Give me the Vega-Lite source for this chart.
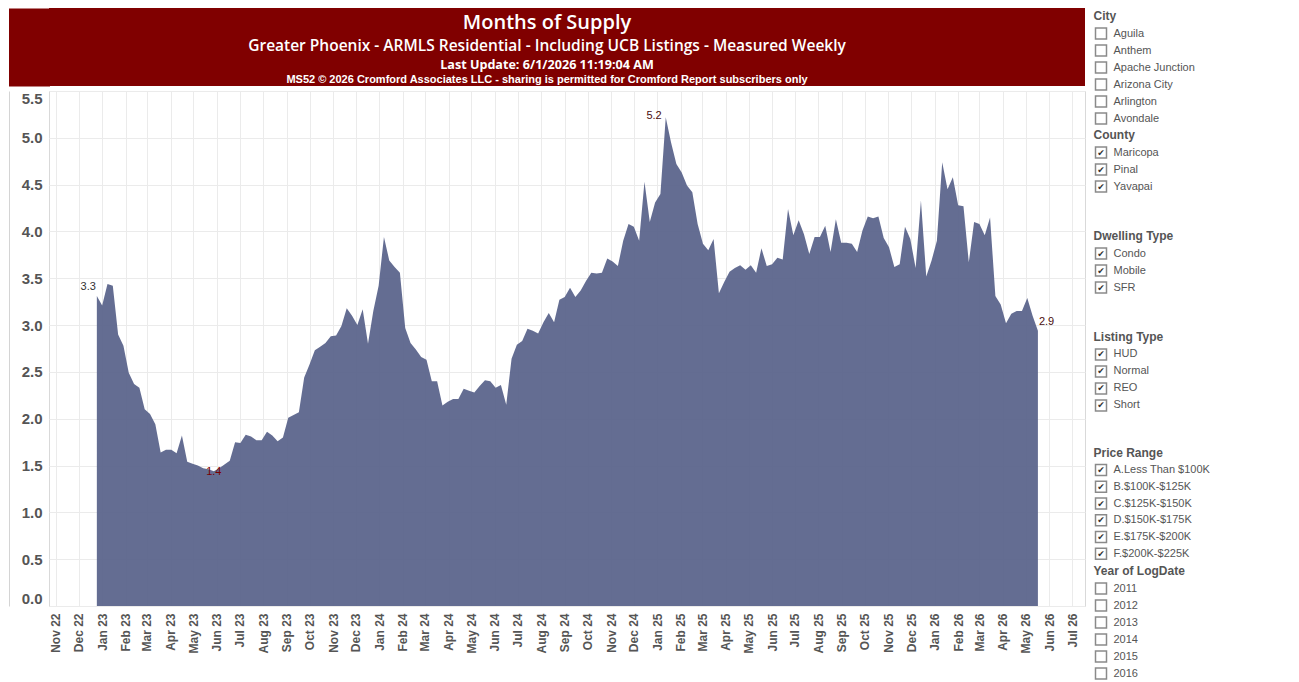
{
  "$schema": "https://vega.github.io/schema/vega-lite/v6.json",
  "padding": {"left": 8, "top": 8, "right": 0, "bottom": 0},
  "background": "white",
  "config": {"view": {"stroke": null}, "font": "Liberation Sans"},
  "datasets": {
    "banner": [
      {"line": 1, "text": "Months of Supply"},
      {"line": 2, "text": "Greater Phoenix - ARMLS Residential - Including UCB Listings - Measured Weekly"},
      {"line": 3, "text": "Last Update: 6/1/2026 11:19:04 AM"},
      {"line": 4, "text": "MS52 © 2026 Cromford Associates LLC - sharing is permitted for Cromford Report subscribers only"}
    ],
    "filters": [
      {"group": "City", "item": "City", "header": true, "checked": false},
      {"group": "City", "item": "Aguila", "header": false, "checked": false},
      {"group": "City", "item": "Anthem", "header": false, "checked": false},
      {"group": "City", "item": "Apache Junction", "header": false, "checked": false},
      {"group": "City", "item": "Arizona City", "header": false, "checked": false},
      {"group": "City", "item": "Arlington", "header": false, "checked": false},
      {"group": "City", "item": "Avondale", "header": false, "checked": false},
      {"group": "County", "item": "County", "header": true, "checked": false},
      {"group": "County", "item": "Maricopa", "header": false, "checked": true},
      {"group": "County", "item": "Pinal", "header": false, "checked": true},
      {"group": "County", "item": "Yavapai", "header": false, "checked": true},
      {"group": "Dwelling Type", "item": "Dwelling Type", "header": true, "checked": false},
      {"group": "Dwelling Type", "item": "Condo", "header": false, "checked": true},
      {"group": "Dwelling Type", "item": "Mobile", "header": false, "checked": true},
      {"group": "Dwelling Type", "item": "SFR", "header": false, "checked": true},
      {"group": "Listing Type", "item": "Listing Type", "header": true, "checked": false},
      {"group": "Listing Type", "item": "HUD", "header": false, "checked": true},
      {"group": "Listing Type", "item": "Normal", "header": false, "checked": true},
      {"group": "Listing Type", "item": "REO", "header": false, "checked": true},
      {"group": "Listing Type", "item": "Short", "header": false, "checked": true},
      {"group": "Price Range", "item": "Price Range", "header": true, "checked": false},
      {"group": "Price Range", "item": "A.Less Than $100K", "header": false, "checked": true},
      {"group": "Price Range", "item": "B.$100K-$125K", "header": false, "checked": true},
      {"group": "Price Range", "item": "C.$125K-$150K", "header": false, "checked": true},
      {"group": "Price Range", "item": "D.$150K-$175K", "header": false, "checked": true},
      {"group": "Price Range", "item": "E.$175K-$200K", "header": false, "checked": true},
      {"group": "Price Range", "item": "F.$200K-$225K", "header": false, "checked": true},
      {"group": "Year of LogDate", "item": "Year of LogDate", "header": true, "checked": false},
      {"group": "Year of LogDate", "item": "2011", "header": false, "checked": false},
      {"group": "Year of LogDate", "item": "2012", "header": false, "checked": false},
      {"group": "Year of LogDate", "item": "2013", "header": false, "checked": false},
      {"group": "Year of LogDate", "item": "2014", "header": false, "checked": false},
      {"group": "Year of LogDate", "item": "2015", "header": false, "checked": false},
      {"group": "Year of LogDate", "item": "2016", "header": false, "checked": false}
    ],
    "mos": [
      {"date": "2022-12-25", "mos": 3.31},
      {"date": "2023-01-01", "mos": 3.21},
      {"date": "2023-01-08", "mos": 3.44},
      {"date": "2023-01-15", "mos": 3.42},
      {"date": "2023-01-22", "mos": 2.90},
      {"date": "2023-01-29", "mos": 2.78},
      {"date": "2023-02-05", "mos": 2.49},
      {"date": "2023-02-12", "mos": 2.37},
      {"date": "2023-02-19", "mos": 2.33},
      {"date": "2023-02-26", "mos": 2.10},
      {"date": "2023-03-05", "mos": 2.05},
      {"date": "2023-03-12", "mos": 1.94},
      {"date": "2023-03-19", "mos": 1.64},
      {"date": "2023-03-26", "mos": 1.67},
      {"date": "2023-04-02", "mos": 1.67},
      {"date": "2023-04-09", "mos": 1.63},
      {"date": "2023-04-16", "mos": 1.82},
      {"date": "2023-04-23", "mos": 1.54},
      {"date": "2023-04-30", "mos": 1.52},
      {"date": "2023-05-07", "mos": 1.50},
      {"date": "2023-05-14", "mos": 1.47},
      {"date": "2023-05-21", "mos": 1.46},
      {"date": "2023-05-28", "mos": 1.44},
      {"date": "2023-06-04", "mos": 1.47},
      {"date": "2023-06-11", "mos": 1.51},
      {"date": "2023-06-18", "mos": 1.55},
      {"date": "2023-06-25", "mos": 1.75},
      {"date": "2023-07-02", "mos": 1.74},
      {"date": "2023-07-09", "mos": 1.83},
      {"date": "2023-07-16", "mos": 1.81},
      {"date": "2023-07-23", "mos": 1.77},
      {"date": "2023-07-30", "mos": 1.77},
      {"date": "2023-08-06", "mos": 1.86},
      {"date": "2023-08-13", "mos": 1.82},
      {"date": "2023-08-20", "mos": 1.76},
      {"date": "2023-08-27", "mos": 1.80},
      {"date": "2023-09-03", "mos": 2.01},
      {"date": "2023-09-10", "mos": 2.04},
      {"date": "2023-09-17", "mos": 2.07},
      {"date": "2023-09-24", "mos": 2.44},
      {"date": "2023-10-01", "mos": 2.58},
      {"date": "2023-10-08", "mos": 2.73},
      {"date": "2023-10-15", "mos": 2.77},
      {"date": "2023-10-22", "mos": 2.81},
      {"date": "2023-10-29", "mos": 2.88},
      {"date": "2023-11-05", "mos": 2.89},
      {"date": "2023-11-12", "mos": 2.99},
      {"date": "2023-11-19", "mos": 3.18},
      {"date": "2023-11-26", "mos": 3.10},
      {"date": "2023-12-03", "mos": 3.00},
      {"date": "2023-12-10", "mos": 3.17},
      {"date": "2023-12-17", "mos": 2.80},
      {"date": "2023-12-24", "mos": 3.15},
      {"date": "2023-12-31", "mos": 3.42},
      {"date": "2024-01-07", "mos": 3.94},
      {"date": "2024-01-14", "mos": 3.69},
      {"date": "2024-01-21", "mos": 3.62},
      {"date": "2024-01-28", "mos": 3.56},
      {"date": "2024-02-04", "mos": 2.97},
      {"date": "2024-02-11", "mos": 2.81},
      {"date": "2024-02-18", "mos": 2.74},
      {"date": "2024-02-25", "mos": 2.66},
      {"date": "2024-03-03", "mos": 2.63},
      {"date": "2024-03-10", "mos": 2.40},
      {"date": "2024-03-17", "mos": 2.40},
      {"date": "2024-03-24", "mos": 2.14},
      {"date": "2024-03-31", "mos": 2.18},
      {"date": "2024-04-07", "mos": 2.21},
      {"date": "2024-04-14", "mos": 2.21},
      {"date": "2024-04-21", "mos": 2.32},
      {"date": "2024-04-28", "mos": 2.30},
      {"date": "2024-05-05", "mos": 2.28},
      {"date": "2024-05-12", "mos": 2.35},
      {"date": "2024-05-19", "mos": 2.41},
      {"date": "2024-05-26", "mos": 2.40},
      {"date": "2024-06-02", "mos": 2.33},
      {"date": "2024-06-09", "mos": 2.36},
      {"date": "2024-06-16", "mos": 2.15},
      {"date": "2024-06-23", "mos": 2.64},
      {"date": "2024-06-30", "mos": 2.79},
      {"date": "2024-07-07", "mos": 2.83},
      {"date": "2024-07-14", "mos": 2.96},
      {"date": "2024-07-21", "mos": 2.94},
      {"date": "2024-07-28", "mos": 2.91},
      {"date": "2024-08-04", "mos": 3.03},
      {"date": "2024-08-11", "mos": 3.13},
      {"date": "2024-08-18", "mos": 3.03},
      {"date": "2024-08-25", "mos": 3.27},
      {"date": "2024-09-01", "mos": 3.30},
      {"date": "2024-09-08", "mos": 3.40},
      {"date": "2024-09-15", "mos": 3.30},
      {"date": "2024-09-22", "mos": 3.37},
      {"date": "2024-09-29", "mos": 3.47},
      {"date": "2024-10-06", "mos": 3.56},
      {"date": "2024-10-13", "mos": 3.55},
      {"date": "2024-10-20", "mos": 3.56},
      {"date": "2024-10-27", "mos": 3.71},
      {"date": "2024-11-03", "mos": 3.68},
      {"date": "2024-11-10", "mos": 3.63},
      {"date": "2024-11-17", "mos": 3.90},
      {"date": "2024-11-24", "mos": 4.08},
      {"date": "2024-12-01", "mos": 4.05},
      {"date": "2024-12-08", "mos": 3.90},
      {"date": "2024-12-15", "mos": 4.53},
      {"date": "2024-12-22", "mos": 4.10},
      {"date": "2024-12-29", "mos": 4.31},
      {"date": "2025-01-05", "mos": 4.40},
      {"date": "2025-01-12", "mos": 5.22},
      {"date": "2025-01-19", "mos": 4.95},
      {"date": "2025-01-26", "mos": 4.72},
      {"date": "2025-02-02", "mos": 4.63},
      {"date": "2025-02-09", "mos": 4.49},
      {"date": "2025-02-16", "mos": 4.42},
      {"date": "2025-02-23", "mos": 4.08},
      {"date": "2025-03-02", "mos": 3.87},
      {"date": "2025-03-09", "mos": 3.80},
      {"date": "2025-03-16", "mos": 3.92},
      {"date": "2025-03-23", "mos": 3.34},
      {"date": "2025-03-30", "mos": 3.46},
      {"date": "2025-04-06", "mos": 3.57},
      {"date": "2025-04-13", "mos": 3.61},
      {"date": "2025-04-20", "mos": 3.64},
      {"date": "2025-04-27", "mos": 3.59},
      {"date": "2025-05-04", "mos": 3.64},
      {"date": "2025-05-11", "mos": 3.56},
      {"date": "2025-05-18", "mos": 3.82},
      {"date": "2025-05-25", "mos": 3.63},
      {"date": "2025-06-01", "mos": 3.65},
      {"date": "2025-06-08", "mos": 3.72},
      {"date": "2025-06-15", "mos": 3.70},
      {"date": "2025-06-22", "mos": 4.24},
      {"date": "2025-06-29", "mos": 3.96},
      {"date": "2025-07-06", "mos": 4.12},
      {"date": "2025-07-13", "mos": 3.97},
      {"date": "2025-07-20", "mos": 3.76},
      {"date": "2025-07-27", "mos": 3.94},
      {"date": "2025-08-03", "mos": 3.94},
      {"date": "2025-08-10", "mos": 4.06},
      {"date": "2025-08-17", "mos": 3.78},
      {"date": "2025-08-24", "mos": 4.13},
      {"date": "2025-08-31", "mos": 3.88},
      {"date": "2025-09-07", "mos": 3.88},
      {"date": "2025-09-14", "mos": 3.87},
      {"date": "2025-09-21", "mos": 3.78},
      {"date": "2025-09-28", "mos": 4.01},
      {"date": "2025-10-05", "mos": 4.16},
      {"date": "2025-10-12", "mos": 4.14},
      {"date": "2025-10-19", "mos": 4.16},
      {"date": "2025-10-26", "mos": 3.93},
      {"date": "2025-11-02", "mos": 3.83},
      {"date": "2025-11-09", "mos": 3.62},
      {"date": "2025-11-16", "mos": 3.65},
      {"date": "2025-11-23", "mos": 4.05},
      {"date": "2025-11-30", "mos": 3.92},
      {"date": "2025-12-07", "mos": 3.61},
      {"date": "2025-12-14", "mos": 4.33},
      {"date": "2025-12-21", "mos": 3.52},
      {"date": "2025-12-28", "mos": 3.69},
      {"date": "2026-01-04", "mos": 3.90},
      {"date": "2026-01-11", "mos": 4.74},
      {"date": "2026-01-18", "mos": 4.45},
      {"date": "2026-01-25", "mos": 4.58},
      {"date": "2026-02-01", "mos": 4.28},
      {"date": "2026-02-08", "mos": 4.27},
      {"date": "2026-02-15", "mos": 3.67},
      {"date": "2026-02-22", "mos": 4.10},
      {"date": "2026-03-01", "mos": 4.08},
      {"date": "2026-03-08", "mos": 3.96},
      {"date": "2026-03-15", "mos": 4.15},
      {"date": "2026-03-22", "mos": 3.31},
      {"date": "2026-03-29", "mos": 3.22},
      {"date": "2026-04-05", "mos": 3.02},
      {"date": "2026-04-12", "mos": 3.12},
      {"date": "2026-04-19", "mos": 3.15},
      {"date": "2026-04-26", "mos": 3.15},
      {"date": "2026-05-03", "mos": 3.29},
      {"date": "2026-05-10", "mos": 3.10},
      {"date": "2026-05-17", "mos": 2.94}
    ]
  },
  "spacing": 6,
  "hconcat": [
    {
      "spacing": 4,
      "vconcat": [
        {
          "width": 1036,
          "height": 78,
          "view": {"fill": "#800000", "stroke": null},
          "data": {"name": "banner"},
          "encoding": {
            "y": {"field": "line", "type": "ordinal", "scale": {"type": "band", "paddingInner": 0, "paddingOuter": 0},
                  "axis": {"orient": "left", "offset": 20, "domain": true, "domainColor": "#800000", "domainWidth": 41, "labels": false, "ticks": false, "grid": false, "title": null}},
            "text": {"field": "text"}
          },
          "layer": [
            {"transform": [{"filter": "datum.line == 1"}], "mark": {"type": "text", "font": "Open Sans", "fontSize": 20, "fontWeight": 600, "color": "white", "baseline": "middle", "dx": -20, "dy": 5}},
            {"transform": [{"filter": "datum.line == 2"}], "mark": {"type": "text", "font": "Open Sans", "fontSize": 15.5, "fontWeight": 600, "color": "white", "baseline": "middle", "dx": -20, "dy": 9}},
            {"transform": [{"filter": "datum.line == 3"}], "mark": {"type": "text", "font": "Open Sans", "fontSize": 12.6, "fontWeight": "bold", "color": "white", "baseline": "middle", "dx": -20, "dy": 8}},
            {"transform": [{"filter": "datum.line == 4"}], "mark": {"type": "text", "font": "Liberation Sans", "fontSize": 11, "fontWeight": "bold", "color": "white", "baseline": "middle", "dx": -20, "dy": 3.5}}
          ]
        },
        {
          "width": 1036,
          "height": 515,
          "view": {"stroke": "#d9d9d9"},
          "data": {"name": "mos"},
          "encoding": {
            "x": {
              "field": "date", "type": "temporal",
              "scale": {"type": "utc", "nice": false, "domain": [{"year": 2022, "month": 10, "date": 23, "utc": true}, {"year": 2026, "month": 7, "date": 18, "utc": true}]},
              "axis": {"title": null, "format": "%b %y", "tickCount": {"interval": "month", "step": 1}, "labelAngle": -90, "labelFont": "Liberation Sans", "labelFontSize": 12, "labelFontWeight": "bold", "labelColor": "#555555", "labelPadding": 7, "ticks": false, "domain": false, "grid": true, "gridColor": "#ebebeb", "labelOverlap": false, "labelFlush": false, "labelBound": false}
            },
            "y": {
              "field": "mos", "type": "quantitative",
              "scale": {"domain": [0, 5.5], "nice": false},
              "axis": {"title": null, "values": [0, 0.5, 1, 1.5, 2, 2.5, 3, 3.5, 4, 4.5, 5, 5.5], "format": ".1f", "offset": 40, "labelPadding": -33, "ticks": false, "tickSize": 0, "domain": true, "domainColor": "#d4d4d4", "labelFont": "Liberation Sans", "labelFontSize": 15, "labelFontWeight": "bold", "labelColor": "#555555", "labelFlush": true, "grid": true, "gridColor": "#ebebeb"}
            }
          },
          "layer": [
            {"mark": {"type": "area", "color": "#58628a", "opacity": 0.93, "interpolate": "linear"}},
            {
              "transform": [{"joinaggregate": [{"op": "min", "field": "date", "as": "d0"}]}, {"filter": "time(datum.date) == time(datum.d0)"}],
              "mark": {"type": "text", "align": "right", "baseline": "middle", "dx": -1, "dy": -9, "fontSize": 11, "color": "#333333"},
              "encoding": {"text": {"field": "mos", "type": "quantitative", "format": ".1f"}}
            },
            {
              "transform": [{"joinaggregate": [{"op": "max", "field": "mos", "as": "mx"}]}, {"filter": "datum.mos == datum.mx"}],
              "mark": {"type": "text", "align": "right", "baseline": "middle", "dx": -4, "dy": -1, "fontSize": 11, "color": "#4a0d0d"},
              "encoding": {"text": {"field": "mos", "type": "quantitative", "format": ".1f"}}
            },
            {
              "transform": [{"joinaggregate": [{"op": "min", "field": "mos", "as": "mn"}]}, {"filter": "datum.mos == datum.mn"}],
              "mark": {"type": "text", "align": "center", "baseline": "middle", "dy": 1, "fontSize": 11, "color": "#7a0000"},
              "encoding": {"text": {"field": "mos", "type": "quantitative", "format": ".1f"}}
            },
            {
              "transform": [{"joinaggregate": [{"op": "max", "field": "date", "as": "d1"}]}, {"filter": "time(datum.date) == time(datum.d1)"}],
              "mark": {"type": "text", "align": "left", "baseline": "middle", "dx": 1, "dy": -9, "fontSize": 11, "color": "#4a0d0d"},
              "encoding": {"text": {"field": "mos", "type": "quantitative", "format": ".1f"}}
            }
          ]
        }
      ]
    },
    {
      "spacing": 0,
      "vconcat": [
        {
          "width": 12, "height": 119,
          "data": {"name": "filters"},
          "transform": [{"filter": "datum.group == 'City'"}],
          "encoding": {"y": {"field": "item", "type": "nominal", "sort": null, "scale": {"type": "band", "paddingInner": 0, "paddingOuter": 0, "align": 0},
            "axis": {"orient": "right", "title": null, "domain": false, "ticks": false, "grid": false, "labelFont": "Liberation Sans", "labelColor": "#555555", "labelAlign": "left", "labelOverlap": false, "labelLimit": 0, "labelBound": false,
              "labelPadding": {"condition": {"test": "datum.value == 'City'", "value": -14}, "value": 6},
              "labelFontSize": {"condition": {"test": "datum.value == 'City'", "value": 12}, "value": 11},
              "labelFontWeight": {"condition": {"test": "datum.value == 'City'", "value": "bold"}, "value": "normal"},
              "labelOffset": {"condition": {"test": "datum.value == 'City'", "value": -0.5}, "value": 0}}}},
          "layer": [
            {"mark": {"type": "point", "shape": "square", "size": 121, "filled": true, "fill": "white", "stroke": "#8a8a8a", "strokeWidth": 1.5}, "encoding": {"opacity": {"condition": {"test": "datum.header", "value": 0}, "value": 1}}},
            {"transform": [{"filter": "datum.checked"}], "mark": {"type": "text", "text": "✔", "font": "DejaVu Sans", "fontSize": 9, "color": "#333333", "baseline": "middle", "align": "center"}}
          ]
        },
        {
          "width": 12, "height": 101,
          "data": {"name": "filters"},
          "transform": [{"filter": "datum.group == 'County'"}],
          "encoding": {"y": {"field": "item", "type": "nominal", "sort": null, "scale": {"type": "band", "paddingInner": 0, "paddingOuter": 0.97, "align": 0},
            "axis": {"orient": "right", "title": null, "domain": false, "ticks": false, "grid": false, "labelFont": "Liberation Sans", "labelColor": "#555555", "labelAlign": "left", "labelOverlap": false, "labelLimit": 0, "labelBound": false,
              "labelPadding": {"condition": {"test": "datum.value == 'County'", "value": -14}, "value": 6},
              "labelFontSize": {"condition": {"test": "datum.value == 'County'", "value": 12}, "value": 11},
              "labelFontWeight": {"condition": {"test": "datum.value == 'County'", "value": "bold"}, "value": "normal"},
              "labelOffset": {"condition": {"test": "datum.value == 'County'", "value": -0.5}, "value": 0}}}},
          "layer": [
            {"mark": {"type": "point", "shape": "square", "size": 121, "filled": true, "fill": "white", "stroke": "#8a8a8a", "strokeWidth": 1.5}, "encoding": {"opacity": {"condition": {"test": "datum.header", "value": 0}, "value": 1}}},
            {"transform": [{"filter": "datum.checked"}], "mark": {"type": "text", "text": "✔", "font": "DejaVu Sans", "fontSize": 9, "color": "#333333", "baseline": "middle", "align": "center"}}
          ]
        },
        {
          "width": 12, "height": 101,
          "data": {"name": "filters"},
          "transform": [{"filter": "datum.group == 'Dwelling Type'"}],
          "encoding": {"y": {"field": "item", "type": "nominal", "sort": null, "scale": {"type": "band", "paddingInner": 0, "paddingOuter": 0.97, "align": 0},
            "axis": {"orient": "right", "title": null, "domain": false, "ticks": false, "grid": false, "labelFont": "Liberation Sans", "labelColor": "#555555", "labelAlign": "left", "labelOverlap": false, "labelLimit": 0, "labelBound": false,
              "labelPadding": {"condition": {"test": "datum.value == 'Dwelling Type'", "value": -14}, "value": 6},
              "labelFontSize": {"condition": {"test": "datum.value == 'Dwelling Type'", "value": 12}, "value": 11},
              "labelFontWeight": {"condition": {"test": "datum.value == 'Dwelling Type'", "value": "bold"}, "value": "normal"},
              "labelOffset": {"condition": {"test": "datum.value == 'Dwelling Type'", "value": -0.5}, "value": 0}}}},
          "layer": [
            {"mark": {"type": "point", "shape": "square", "size": 121, "filled": true, "fill": "white", "stroke": "#8a8a8a", "strokeWidth": 1.5}, "encoding": {"opacity": {"condition": {"test": "datum.header", "value": 0}, "value": 1}}},
            {"transform": [{"filter": "datum.checked"}], "mark": {"type": "text", "text": "✔", "font": "DejaVu Sans", "fontSize": 9, "color": "#333333", "baseline": "middle", "align": "center"}}
          ]
        },
        {
          "width": 12, "height": 116,
          "data": {"name": "filters"},
          "transform": [{"filter": "datum.group == 'Listing Type'"}],
          "encoding": {"y": {"field": "item", "type": "nominal", "sort": null, "scale": {"type": "band", "paddingInner": 0, "paddingOuter": 0.912, "align": 0},
            "axis": {"orient": "right", "title": null, "domain": false, "ticks": false, "grid": false, "labelFont": "Liberation Sans", "labelColor": "#555555", "labelAlign": "left", "labelOverlap": false, "labelLimit": 0, "labelBound": false,
              "labelPadding": {"condition": {"test": "datum.value == 'Listing Type'", "value": -14}, "value": 6},
              "labelFontSize": {"condition": {"test": "datum.value == 'Listing Type'", "value": 12}, "value": 11},
              "labelFontWeight": {"condition": {"test": "datum.value == 'Listing Type'", "value": "bold"}, "value": "normal"},
              "labelOffset": {"condition": {"test": "datum.value == 'Listing Type'", "value": -0.5}, "value": 0}}}},
          "layer": [
            {"mark": {"type": "point", "shape": "square", "size": 121, "filled": true, "fill": "white", "stroke": "#8a8a8a", "strokeWidth": 1.5}, "encoding": {"opacity": {"condition": {"test": "datum.header", "value": 0}, "value": 1}}},
            {"transform": [{"filter": "datum.checked"}], "mark": {"type": "text", "text": "✔", "font": "DejaVu Sans", "fontSize": 9, "color": "#333333", "baseline": "middle", "align": "center"}}
          ]
        },
        {
          "width": 12, "height": 117,
          "data": {"name": "filters"},
          "transform": [{"filter": "datum.group == 'Price Range'"}],
          "encoding": {"y": {"field": "item", "type": "nominal", "sort": null, "scale": {"type": "band", "paddingInner": 0, "paddingOuter": 0, "align": 0},
            "axis": {"orient": "right", "title": null, "domain": false, "ticks": false, "grid": false, "labelFont": "Liberation Sans", "labelColor": "#555555", "labelAlign": "left", "labelOverlap": false, "labelLimit": 0, "labelBound": false,
              "labelPadding": {"condition": {"test": "datum.value == 'Price Range'", "value": -14}, "value": 6},
              "labelFontSize": {"condition": {"test": "datum.value == 'Price Range'", "value": 12}, "value": 11},
              "labelFontWeight": {"condition": {"test": "datum.value == 'Price Range'", "value": "bold"}, "value": "normal"},
              "labelOffset": {"condition": {"test": "datum.value == 'Price Range'", "value": -0.5}, "value": 0}}}},
          "layer": [
            {"mark": {"type": "point", "shape": "square", "size": 121, "filled": true, "fill": "white", "stroke": "#8a8a8a", "strokeWidth": 1.5}, "encoding": {"opacity": {"condition": {"test": "datum.header", "value": 0}, "value": 1}}},
            {"transform": [{"filter": "datum.checked"}], "mark": {"type": "text", "text": "✔", "font": "DejaVu Sans", "fontSize": 9, "color": "#333333", "baseline": "middle", "align": "center"}}
          ]
        },
        {
          "width": 12, "height": 119,
          "data": {"name": "filters"},
          "transform": [{"filter": "datum.group == 'Year of LogDate'"}],
          "encoding": {"y": {"field": "item", "type": "nominal", "sort": null, "scale": {"type": "band", "paddingInner": 0, "paddingOuter": 0, "align": 0},
            "axis": {"orient": "right", "title": null, "domain": false, "ticks": false, "grid": false, "labelFont": "Liberation Sans", "labelColor": "#555555", "labelAlign": "left", "labelOverlap": false, "labelLimit": 0, "labelBound": false,
              "labelPadding": {"condition": {"test": "datum.value == 'Year of LogDate'", "value": -14}, "value": 6},
              "labelFontSize": {"condition": {"test": "datum.value == 'Year of LogDate'", "value": 12}, "value": 11},
              "labelFontWeight": {"condition": {"test": "datum.value == 'Year of LogDate'", "value": "bold"}, "value": "normal"},
              "labelOffset": {"condition": {"test": "datum.value == 'Year of LogDate'", "value": -0.5}, "value": 0}}}},
          "layer": [
            {"mark": {"type": "point", "shape": "square", "size": 121, "filled": true, "fill": "white", "stroke": "#8a8a8a", "strokeWidth": 1.5}, "encoding": {"opacity": {"condition": {"test": "datum.header", "value": 0}, "value": 1}}},
            {"transform": [{"filter": "datum.checked"}], "mark": {"type": "text", "text": "✔", "font": "DejaVu Sans", "fontSize": 9, "color": "#333333", "baseline": "middle", "align": "center"}}
          ]
        }
      ]
    }
  ]
}
